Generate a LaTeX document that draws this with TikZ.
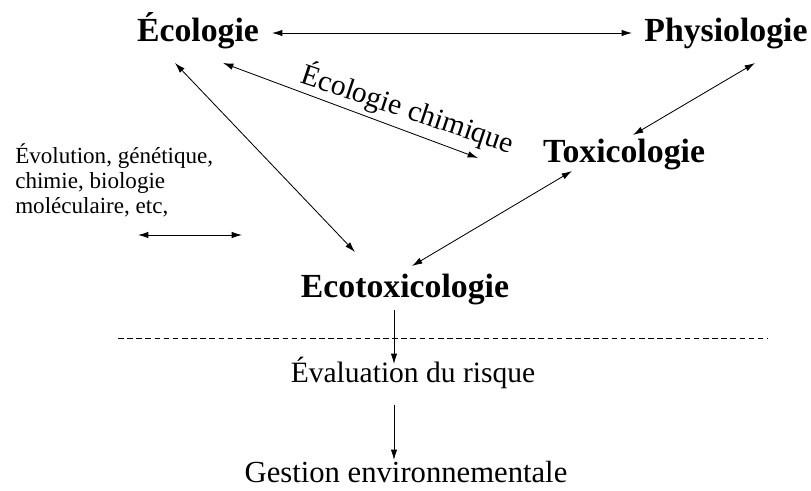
\documentclass[tikz,border=0pt]{standalone}
\usepackage{fontspec}
\setmainfont{Liberation Serif}
\usetikzlibrary{arrows.meta}

\tikzset{
  field/.style={font=\fontsize{24}{28}\selectfont\bfseries, anchor=base, inner sep=0pt},
  stage/.style={font=\fontsize{21}{24}\selectfont, anchor=base, inner sep=0pt},
  aside/.style={font=\fontsize{16.4}{17.8}\selectfont, align=left, anchor=north west, inner sep=0pt},
  link/.style={<->, line width=0.6pt},
}

\begin{document}
\begin{tikzpicture}[x=0.025cm, y=-0.025cm, >={Latex[length=2.6mm,width=1.6mm]}]
    \useasboundingbox (0,0) rectangle (811,491);

    \node[field] (eco) at (198,42) {Écologie};
    \node[field] (phys) at (726,42) {Physiologie};
    \node[field] (tox) at (624,163) {Toxicologie};
    \node[field] (ecotox) at (405,298) {Ecotoxicologie};
    \node[stage] (eval) at (413,383) {Évaluation du risque};
    \node[stage, font=\fontsize{21.8}{24}\selectfont] (gest) at (406,483) {Gestion environnementale};
    \node[aside] (evol) at (15,143) {Évolution, génétique,\\chimie, biologie\\moléculaire, etc,};
    \node[stage, rotate=-18.5] (chim) at (405,118) {Écologie chimique};

    % ends of the arrows
    \coordinate (ecoA) at (272,33);   \coordinate (physA) at (632,33);
    \coordinate (ecoB) at (175,63);   \coordinate (ecotoxB) at (355,252);
    \coordinate (ecoC) at (223,63);   \coordinate (chimC) at (478,158);
    \coordinate (physD) at (755,63);  \coordinate (toxD) at (633,135);
    \coordinate (toxE) at (572,171);  \coordinate (ecotoxE) at (412,266);
    \coordinate (evolL) at (138,235); \coordinate (evolR) at (242,235);
    \coordinate (ecotoxF) at (394,310); \coordinate (evalF) at (394,364);
    \coordinate (evalG) at (394,405); \coordinate (gestG) at (394,460);
    \coordinate (sepL) at (118,338);  \coordinate (sepR) at (768,338);

    \draw [link] (ecoA) -- (physA);
    \draw [link] (ecoB) -- (ecotoxB);
    \draw [link] (ecoC) -- (chimC);
    \draw [link] (physD) -- (toxD);
    \draw [link] (toxE) -- (ecotoxE);
    \draw [link] (evolL) -- (evolR);
    \draw [->, line width=0.6pt] (ecotoxF) -- (evalF);
    \draw [->, line width=0.6pt] (evalG) -- (gestG);
    \draw [dashed, dash pattern=on 4pt off 2.5pt, thin] (sepL) -- (sepR);
\end{tikzpicture}
\end{document}
